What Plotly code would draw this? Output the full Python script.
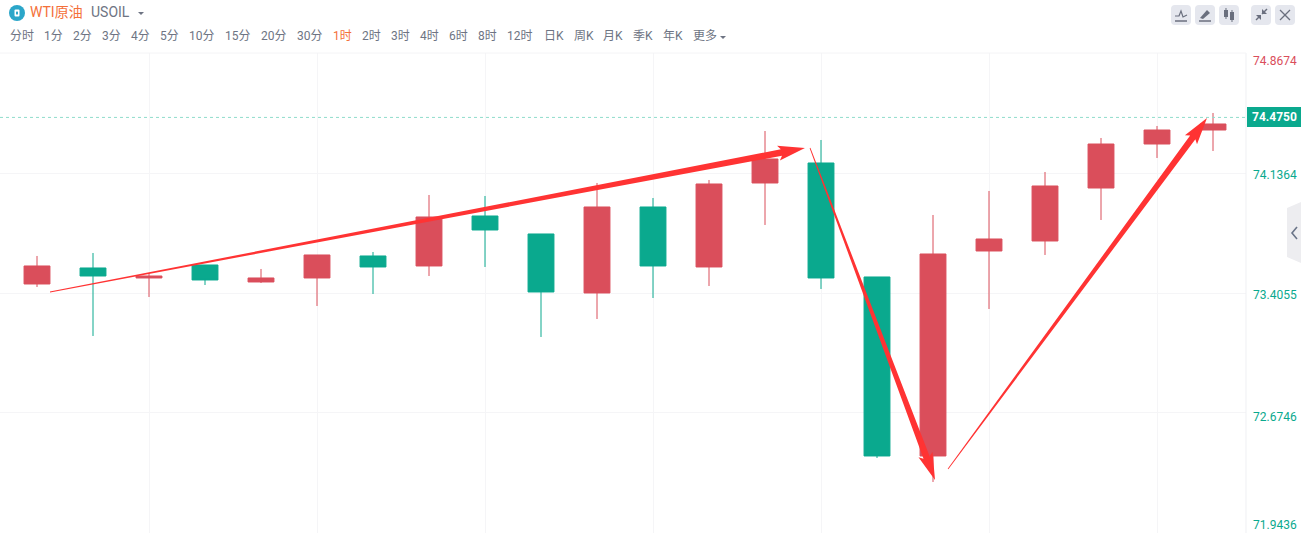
import plotly.graph_objects as go
import numpy as np

W, H = 1301, 554
PLOT_L, PLOT_R, PLOT_T, PLOT_B = 0, 1246, 53, 533

# ---- chart values ----
candle_index = list(range(22))
opens  = [73.4604,73.5579,73.4970,73.5761,73.4726,73.4970,73.6310,73.5701,73.8746,73.7650,73.4056,73.9294,73.5640,74.0756,74.1974,73.5031,72.4128,73.6614,73.7223,74.0451,74.3131,74.3984]
highs  = [73.6310,73.6492,73.5274,73.5761,73.5518,73.6371,73.6553,74.0025,73.9964,73.7650,74.0756,73.9842,74.0939,74.3923,74.3375,73.5031,73.8807,74.0269,74.1426,74.3497,74.4228,74.5020]
lows   = [73.4421,73.1437,73.3812,73.4543,73.4665,73.3264,73.3995,73.5091,73.5640,73.1376,73.2472,73.3751,73.4482,73.8198,73.4300,72.4006,72.2544,73.3081,73.6371,73.8502,74.2279,74.2705]
closes = [73.5701,73.5091,73.5091,73.4848,73.4970,73.6371,73.5640,73.8685,73.7893,73.4117,73.9294,73.5701,74.0695,74.2218,73.4970,72.4128,73.6431,73.7345,74.0573,74.3131,74.3984,74.4350]

grid_candles = [2, 5, 8, 11, 14, 17, 20]
price_ticks = [74.8674, 74.1364, 73.4055, 72.6746, 71.9436]
price_labels = ["74.8674", "74.1364", "73.4055", "72.6746", "71.9436"]
price_label_colors = ["#DA4E5B", "#0AA98E", "#0AA98E", "#0AA98E", "#0AA98E"]
price_label_shift = [-8, -2, -2, -4, 8]
last_price = 74.4750

# hand-drawn arrows (start candle, start price, end candle, end price)
arrow_starts = [(0.232, 73.4117), (13.804, 74.2888), (16.268, 72.3336)]
arrow_ends   = [(13.714, 74.2888), (16.036, 72.2666), (20.893, 74.4715)]

period_labels = ["分时","1分","2分","3分","4分","5分","10分","15分","20分","30分","1时","2时","3时","4时","6时","8时","12时","日K","周K","月K","季K","年K","更多"]
period_left   = [9,43,72,101,130,159,188,224,260,296,332,361,390,419,448,477,506,543,573,602,632,662,692]
active_period = "1时"

RED, GREEN, ARROW = "#DA4E5B", "#0AA98E", "#FF3333"
TXT = "#6E7483"
FONT = "Roboto, 'Noto Sans CJK SC', sans-serif"

# scales
X0 = (PLOT_L - 37) / 56
X1 = (PLOT_R - 37) / 56
Y_TOP, Y_BOT = price_ticks[0], price_ticks[-1]
PX_PER_IDX = 56.0
PX_PER_PRICE = (PLOT_B - PLOT_T) / (Y_TOP - Y_BOT)

def px(x): return x / W
def py(y): return 1 - y / H

fig = go.Figure()
fig.add_trace(go.Candlestick(
    x=candle_index, open=opens, high=highs, low=lows, close=closes,
    whiskerwidth=0, hoverinfo="skip", showlegend=False,
    increasing=dict(line=dict(color=RED, width=1), fillcolor=RED),
    decreasing=dict(line=dict(color=GREEN, width=1), fillcolor=GREEN),
))

def arrow_poly(s, e, shaft0=0.8, shaft1=6.5, head_w=15, head_l=24, back=3):
    sx, sy = s[0] * PX_PER_IDX, -s[1] * PX_PER_PRICE
    ex, ey = e[0] * PX_PER_IDX, -e[1] * PX_PER_PRICE
    d = np.array([ex - sx, ey - sy]); L = np.hypot(*d); u = d / L; n = np.array([-u[1], u[0]])
    S, E = np.array([sx, sy]), np.array([ex, ey])
    B = E - u * head_l
    pts = [S + n * shaft0 / 2, B + n * shaft1 / 2 , B + n * head_w / 2 - u * back, E,
           B - n * head_w / 2 - u * back, B - n * shaft1 / 2, S - n * shaft0 / 2, S + n * shaft0 / 2]
    return [p[0] / PX_PER_IDX for p in pts], [-p[1] / PX_PER_PRICE for p in pts]

for s, e in zip(arrow_starts, arrow_ends):
    xs, ys = arrow_poly(s, e)
    fig.add_trace(go.Scatter(x=xs, y=ys, mode="lines", fill="toself", fillcolor=ARROW,
                             line=dict(width=0, color=ARROW), hoverinfo="skip", showlegend=False))

shapes, ann = [], []

def text(x, y, s, color=TXT, size=12, anchor="left", **kw):
    ann.append(dict(x=px(x), y=py(y), xref="paper", yref="paper", text=s, showarrow=False,
                    xanchor=anchor, yanchor="middle", font=dict(family=FONT, size=size, color=color),
                    borderpad=0, **kw))

def pshape(d, fill=None, line=None, lw=1):
    shapes.append(dict(type="path", path=d, xref="paper", yref="paper",
                       fillcolor=fill or "rgba(0,0,0,0)", line=dict(color=line or "rgba(0,0,0,0)", width=lw if line else 0)))

def P(*pts, close=False):
    s = "M " + " L ".join(f"{px(a):.5f},{py(b):.5f}" for a, b in pts)
    return s + (" Z" if close else "")

def rrect(x0, y0, x1, y1, r=4):
    a = lambda x, y: f"{px(x):.5f},{py(y):.5f}"
    return (f"M {a(x0+r,y0)} L {a(x1-r,y0)} Q {a(x1,y0)} {a(x1,y0+r)} L {a(x1,y1-r)} Q {a(x1,y1)} {a(x1-r,y1)} "
            f"L {a(x0+r,y1)} Q {a(x0,y1)} {a(x0,y1-r)} L {a(x0,y0+r)} Q {a(x0,y0)} {a(x0+r,y0)} Z")

# axis frame
pshape(P((1246, 53), (1246, 533)), line="#EFF0F3", lw=1)
pshape(P((0, 53), (1246, 53)), line="#F4F4F6", lw=1)

# last price line and tag
shapes.append(dict(type="line", xref="x", yref="y", x0=X0, x1=X1, y0=last_price, y1=last_price,
                   line=dict(color="#8FDCCB", width=1, dash="3px,3px"), layer="above"))
shapes.append(dict(type="rect", xref="paper", yref="paper", x0=px(1247), x1=px(1301), y0=py(127), y1=py(107),
                   fillcolor=GREEN, line=dict(width=0)))
text(1274.5, 117, f"{last_price:.4f}", color="#FFFFFF", size=12, anchor="center")
ann[-1]["text"] = f"<b>{last_price:.4f}</b>"

for p, lab, c, sh in zip(price_ticks, price_labels, price_label_colors, price_label_shift):
    ann.append(dict(x=px(1275), xref="paper", y=p, yref="y", text=lab, showarrow=False, xanchor="center",
                    yanchor="middle", yshift=sh, font=dict(family=FONT, size=12, color=c)))

# header
shapes.append(dict(type="circle", xref="paper", yref="paper", x0=px(9), x1=px(25), y0=py(21), y1=py(5),
                   fillcolor="#2BA6C9", line=dict(width=0)))
pshape(rrect(14.5, 9.5, 19.5, 16.5, 1), fill="#FFFFFF")
pshape(rrect(16, 11.5, 18, 14.5, 0.5), fill="#2BA6C9")
text(29, 12, "WTI原油", color="#F4703A", size=14)
text(90, 12, "USOIL", color=TXT, size=14)
pshape(P((138, 12), (144, 12), (141, 15), close=True), fill=TXT)

for lab, x in zip(period_labels, period_left):
    text(x, 36, lab, color="#F4703A" if lab == active_period else TXT, size=12)
pshape(P((720, 36), (726, 36), (723, 39), close=True), fill=TXT)

# toolbar buttons
for x0 in [1171, 1195, 1219, 1251, 1275]:
    pshape(rrect(x0, 5, x0 + 20, 25, 4), fill="#E5E7EE")
G = "#6A6F7E"
pshape(P((1175, 21), (1187, 21)), line=G, lw=1.5)
pshape(P((1175, 16), (1179, 16), (1181, 11), (1183, 17), (1187, 15)), line=G, lw=1.2)
pshape(P((1199, 21), (1211, 21)), line=G, lw=1.5)
pshape(P((1200, 18), (1207, 10), (1210, 13), (1203, 19), close=True), fill=G)
pshape(P((1224, 10), (1228, 10), (1228, 17), (1224, 17), close=True), fill=G)
pshape(P((1226, 8), (1226, 19)), line=G, lw=1)
pshape(P((1230, 12), (1234, 12), (1234, 20), (1230, 20), close=True), fill=G)
pshape(P((1232, 10), (1232, 22)), line=G, lw=1)
pshape(P((1256, 20), (1260, 16)), line=G, lw=1.4)
pshape(P((1262, 14), (1267, 9)), line=G, lw=1.4)
pshape(P((1256, 15), (1261, 15), (1261, 20), close=True), fill=G)
pshape(P((1262, 9), (1262, 14), (1267, 14), close=True), fill=G)
pshape(P((1280, 10), (1290, 20)), line=G, lw=1.3)
pshape(P((1290, 10), (1280, 20)), line=G, lw=1.3)

# side tab
pshape(P((1301, 202), (1287, 208), (1287, 257), (1301, 263), close=True), fill="#EDEDF0")
pshape(P((1297, 227), (1292, 233), (1297, 239)), line="#6A7488", lw=1.6)

fig.update_layout(
    width=W, height=H, margin=dict(l=0, r=0, t=0, b=0),
    paper_bgcolor="#FFFFFF", plot_bgcolor="#FFFFFF", boxgap=0.34, showlegend=False,
    font=dict(family=FONT, size=12, color=TXT), shapes=shapes, annotations=ann,
    xaxis=dict(domain=[px(PLOT_L), px(PLOT_R)], range=[X0, X1], rangeslider=dict(visible=False),
               tickmode="array", tickvals=grid_candles, showticklabels=False, ticks="",
               showgrid=True, gridcolor="#F5F5F7", gridwidth=1, zeroline=False, showline=False, fixedrange=True),
    yaxis=dict(domain=[py(PLOT_B), py(PLOT_T)], range=[Y_BOT, Y_TOP], tickmode="array", tickvals=price_ticks,
               showticklabels=False, ticks="", showgrid=True, gridcolor="#F5F5F7", gridwidth=1,
               zeroline=False, showline=False, fixedrange=True),
)

fig.write_html("out.html", config=dict(displayModeBar=False),
               post_script="document.body.style.margin='0';document.body.style.overflow='hidden';")
